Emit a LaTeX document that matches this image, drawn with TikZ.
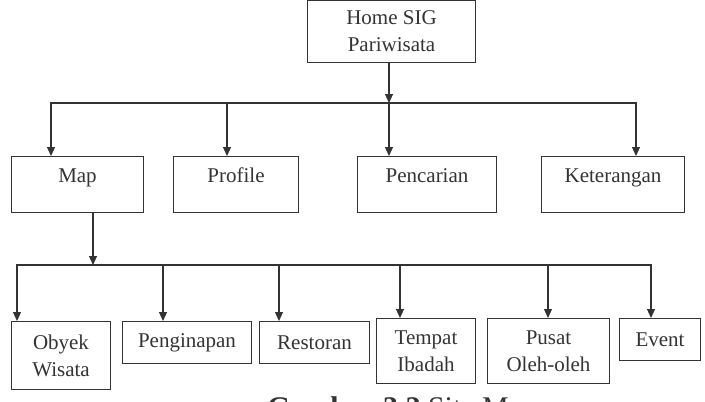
\documentclass[tikz,border=0pt]{standalone}
\usepackage{fontspec}
\setmainfont{Liberation Serif}
\usetikzlibrary{arrows.meta}
\definecolor{LineGray}{HTML}{333333}
\tikzset{
  box/.style={draw=LineGray,line width=1pt,text=LineGray,font=\fontsize{21}{27}\selectfont,align=center,anchor=north west,inner sep=0pt},
  topbox/.style={box,text height=15pt,text depth=20pt,inner ysep=10.5pt},
  link/.style={-{Triangle[length=9pt,width=8pt]},draw=LineGray,line width=1.1pt},
}

\begin{document}
\begin{tikzpicture}[x=1pt,y=-1pt]
        \useasboundingbox (0,0) rectangle (705,402);
        \node[box,minimum width=168pt,minimum height=62pt] (home) at (307,0) {Home SIG\\Pariwisata};
        % menu utama
        \node[topbox,minimum width=132pt] (map) at (11,156) {Map};
        \node[topbox,minimum width=125pt] (profile) at (173,156) {Profile};
        \node[topbox,minimum width=139pt] (cari) at (357,156) {Pencarian};
        \node[topbox,minimum width=143pt] (info) at (541,156) {Keterangan};
        % isi map
        \node[box,minimum width=99pt,minimum height=68pt] (obyek) at (11,321) {Obyek\\Wisata};
        \node[box,minimum width=129pt,minimum height=42pt] (inap) at (122,321) {Penginapan};
        \node[box,minimum width=110pt,minimum height=42pt] (resto) at (259,321) {Restoran};
        \node[box,minimum width=99pt,minimum height=65pt] (ibadah) at (376,318) {Tempat\\Ibadah};
        \node[box,minimum width=122pt,minimum height=65pt] (oleh) at (487,318) {Pusat\\Oleh-oleh};
        \node[box,minimum width=81pt,minimum height=42pt] (event) at (619,318) {Event};
        \node[anchor=base west,inner sep=0pt,text=LineGray,font=\fontsize{30}{36}\selectfont] (caption) at (267,417) {\textbf{Gambar 3.2} Site Map};
        \coordinate (hub) at (389,103);
        \coordinate (maphub) at (93,265);
        \draw[link] (home.south -| hub) -- (hub);
        \draw[link] (hub) -| ([xshift=40pt]map.north west);
        \draw[link] (hub) -| ([xshift=54pt]profile.north west);
        \draw[link] (hub) -- ([xshift=32pt]cari.north west);
        \draw[link] (hub) -| ([xshift=95pt]info.north west);
        \draw[link] ([xshift=82pt]map.south west) -- (maphub);
        \draw[link] (maphub) -| ([xshift=6pt]obyek.north west);
        \draw[link] (maphub) -| ([xshift=41pt]inap.north west);
        \draw[link] (maphub) -| ([xshift=20pt]resto.north west);
        \draw[link] (maphub) -| ([xshift=24pt]ibadah.north west);
        \draw[link] (maphub) -| ([xshift=61pt]oleh.north west);
        \draw[link] (maphub) -| ([xshift=32pt]event.north west);
      \end{tikzpicture}
\end{document}
